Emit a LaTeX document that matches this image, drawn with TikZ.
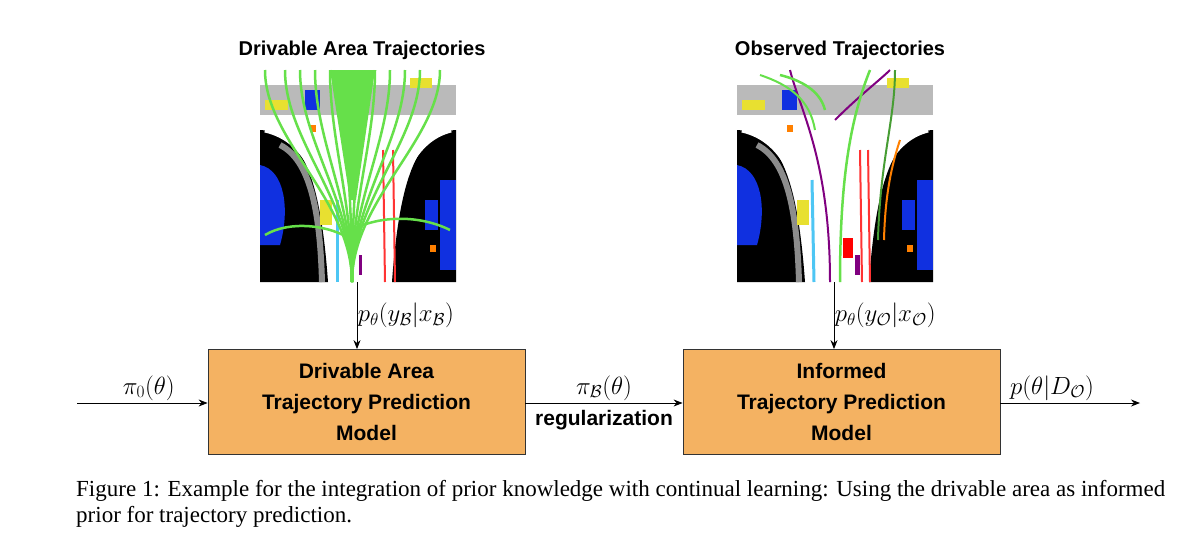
\documentclass[tikz,border=0pt]{standalone}
\usepackage{fontspec}
\setmainfont{Liberation Serif}
\newfontfamily\sansb{Liberation Sans}
\usetikzlibrary{arrows.meta}
\definecolor{boxfill}{HTML}{F4B262}
\definecolor{roadgray}{HTML}{8C8C8C}
\definecolor{mapblue}{HTML}{1030E0}
\definecolor{trajgreen}{HTML}{66E04A}
\definecolor{carye}{HTML}{E8E030}
\tikzset{
  model/.style={draw=black!80, line width=0.8pt, fill=boxfill, minimum width=317pt, minimum height=105pt, align=center, font=\sansb\bfseries\fontsize{21}{31}\selectfont},
  ttl/.style={font=\sansb\bfseries\fontsize{20}{24}\selectfont},
  lab/.style={font=\fontsize{24}{27}\selectfont},
  captxt/.style={font=\fontsize{23}{27}\selectfont},
  flow/.style={-{Stealth[length=9pt,width=7pt]}, line width=0.9pt},
}
\newcommand{\mapbase}[2]{%
  \begin{scope}[shift={(#1,#2)}, yscale=-1]
    \fill[white] (0,0) rectangle (196,-212);
    \fill[roadgray!60] (0,-15) rectangle (196,-45);
    \fill[black] (0,-60) .. controls (40,-62) and (60,-100) .. (68,-212) -- (0,-212) -- cycle;
    \fill[black] (196,-60) .. controls (160,-62) and (140,-100) .. (132,-212) -- (196,-212) -- cycle;
    \fill[mapblue] (0,-95) .. controls (25,-100) and (30,-140) .. (20,-175) -- (0,-175) -- cycle;
    \fill[mapblue] (180,-110) rectangle (196,-200);
    \fill[mapblue] (45,-20) rectangle (60,-40);
    \fill[mapblue] (165,-130) rectangle (178,-160);
    \draw[white, line width=5pt] (5,-60) .. controls (50,-70) and (70,-120) .. (78,-212);
    \draw[white, line width=5pt] (191,-60) .. controls (150,-70) and (130,-120) .. (122,-212);
    \draw[roadgray, line width=6pt] (20,-75) .. controls (50,-90) and (60,-140) .. (62,-212);
    \fill[carye] (5,-30) rectangle (28,-40);
    \fill[carye] (150,-8) rectangle (172,-18);
    \fill[carye] (60,-130) rectangle (72,-155);
    \fill[orange] (170,-175) rectangle (176,-182);
    \fill[orange] (50,-55) rectangle (56,-62);
  \end{scope}}
\begin{document}
\begin{tikzpicture}[x=1pt,y=-1pt]
\useasboundingbox (0,0) rectangle (1200,539);
% left map
\mapbase{260}{70}
\begin{scope}
  \draw[cyan!70, line width=3pt] (337,200) -- (337,282);
  \draw[red!80, line width=2pt] (383,150) -- (385,282);
  \draw[red!80, line width=2pt] (393,150) -- (395,282);
  \draw[violet, line width=3pt] (360,255) -- (360,275);
  \foreach \tx in {265,285,300,315,330,345,360,375,390,405,420,440} {
    \draw[trajgreen, line width=2.5pt] (352,282) .. controls (352,200) and (\tx,140) .. (\tx,70);
  }
  \fill[trajgreen] (330,70) -- (375,70) -- (356,200) -- (350,200) -- cycle;
  \draw[trajgreen, line width=2.5pt] (352,240) .. controls (330,225) and (290,220) .. (265,235);
  \draw[trajgreen, line width=2.5pt] (352,230) .. controls (380,215) and (420,215) .. (450,230);
\end{scope}
% right map
\mapbase{737}{70}
\begin{scope}
  \draw[cyan!70, line width=3pt] (812,180) -- (814,282);
  \draw[red!80, line width=2pt] (860,150) -- (862,282);
  \draw[red!80, line width=2pt] (868,150) -- (870,282);
  \fill[red] (843,238) rectangle (853,258);
  \fill[violet] (855,255) rectangle (860,275);
  \draw[violet, line width=2pt] (830,282) .. controls (830,160) and (800,110) .. (790,70);
  \draw[violet, line width=2pt] (835,120) .. controls (860,95) and (880,80) .. (890,70);
  \draw[trajgreen, line width=2.5pt] (840,282) .. controls (840,180) and (850,120) .. (870,70);
  \draw[trajgreen, line width=2.5pt] (825,110) .. controls (820,90) and (800,80) .. (780,75);
  \draw[trajgreen!70!black, line width=2pt] (895,70) .. controls (895,120) and (880,160) .. (878,240);
  \draw[orange, line width=2pt] (900,140) .. controls (890,170) and (885,200) .. (884,240);
  \draw[trajgreen, line width=2pt] (760,75) .. controls (790,85) and (810,100) .. (815,130);
\end{scope}
% titles
\node[ttl] (t1) at (362,50) {Drivable Area Trajectories};
\node[ttl] (t2) at (840,50) {Observed Trajectories};
% boxes
\node[model] (m1) at (366.5,402) {Drivable Area\\Trajectory Prediction\\Model};
\node[model] (m2) at (841.5,402) {Informed\\Trajectory Prediction\\Model};
\coordinate (i1) at (357,282);
\coordinate (i2) at (834,282);
\coordinate (s) at (77,403);
\coordinate (e) at (1140,403);
\draw[flow] (i1) -- (i1 |- m1.north) node[pos=0.5, right=-3pt, lab] {$p_\theta(y_{\mathcal B}|x_{\mathcal B})$};
\draw[flow] (i2) -- (i2 |- m2.north) node[pos=0.5, right=-3pt, lab] {$p_\theta(y_{\mathcal O}|x_{\mathcal O})$};
\draw[flow] (s) -- (s -| m1.west) node[pos=0.55, above=-1pt, lab] {$\pi_0(\theta)$};
\draw[flow] (m1.east |- s) -- (m2.west |- s) node[pos=0.5, above=-1pt, lab] {$\pi_{\mathcal B}(\theta)$}
  node[pos=0.5, below=3pt, font=\sansb\bfseries\fontsize{21}{24}\selectfont] {regularization};
\draw[flow] (m2.east |- s) -- (e) node[pos=0.37, above=-1pt, lab] {$p(\theta|D_{\mathcal O})$};
% caption
\node[captxt, anchor=west, inner sep=0pt] (c1) at (76,491) {Figure 1: Example for the integration of prior knowledge with continual learning: Using the drivable area as informed};
\node[captxt, anchor=west, inner sep=0pt] (c2) at (76,517) {prior for trajectory prediction.};
\end{tikzpicture}
\end{document}
